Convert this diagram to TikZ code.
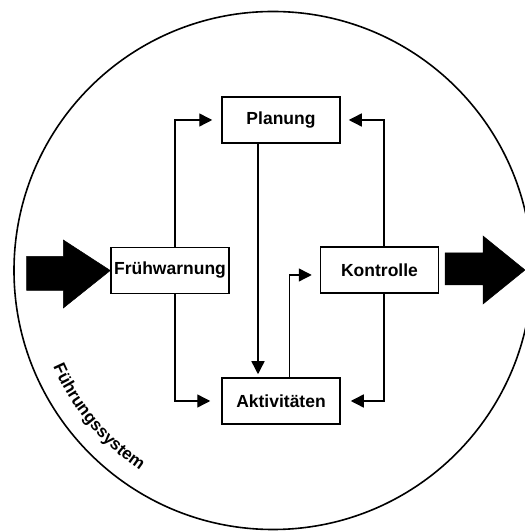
\documentclass[tikz,border=0pt]{standalone}
\usepackage{fontspec}
\setmainfont{Liberation Sans}
\usetikzlibrary{arrows.meta,decorations.text}

\tikzset{
  stage/.style={draw, line width=1.5pt, minimum width=118pt, minimum height=46pt,
    inner sep=0pt, font=\bfseries\fontsize{17.5}{19}\selectfont},
  flow/.style={line width=1.4pt, -{Triangle[length=13pt,width=13pt]}},
  bigarrow/.style={fill=black, draw=black, line width=0.5pt},
  rim/.style={draw, line width=1.6pt}
}

\begin{document}
\begin{tikzpicture}[x=1pt,y=1pt]
  \useasboundingbox (0,0) rectangle (524,532);

  % the surrounding system
  \coordinate (c) at (273,261.5);
  \draw[rim] (c) circle[radius=259];

  % system label, set along an inner arc
  \path[decorate, decoration={text along path, text align=center,
      text format delimiters={|}{|},
      text={|\bfseries\fontsize{17}{18}\selectfont|Führungssystem}}]
    (c) ++(189:240) arc[start angle=189, end angle=251, radius=240];

  % stages
  \node[stage] (pl) at (281,412)   {Planung};
  \node[stage] (fw) at (170,261.5) {Frühwarnung};
  \node[stage] (kt) at (379.5,262) {Kontrolle};
  \node[stage] (ak) at (281,131)   {Aktivitäten};

  % input and output
  \coordinate (intip) at (fw.west);
  \coordinate (outtip) at (525,262);
  \path[bigarrow] (26.7,241.5) -- (63.3,241.5) -- (63.3,224) -- (intip)
    -- (63.3,292) -- (63.3,275.5) -- (26.7,275.5) -- cycle;
  \path[bigarrow] (445,247) -- (483,247) -- (483,228) -- (outtip)
    -- (483,296) -- (483,279) -- (445,279) -- cycle;

  % control loop
  \draw[flow, shorten >=9pt]  ([xshift=5pt]fw.north) |- (pl.west);
  \draw[flow, shorten >=11pt] ([xshift=5pt]fw.south) |- (ak.west);
  \draw[flow, shorten >=8pt]  ([xshift=4.5pt]kt.north) |- (pl.east);
  \draw[flow, shorten >=10pt] ([xshift=4.5pt]kt.south) |- (ak.east);
  \draw[flow, shorten >=3pt]  ([xshift=-23pt]pl.south) -- ([xshift=-23pt]ak.north);
  \draw[flow, shorten >=8pt]  ([xshift=8.3pt]ak.north) |- ([yshift=-5pt]kt.west);
\end{tikzpicture}
\end{document}
